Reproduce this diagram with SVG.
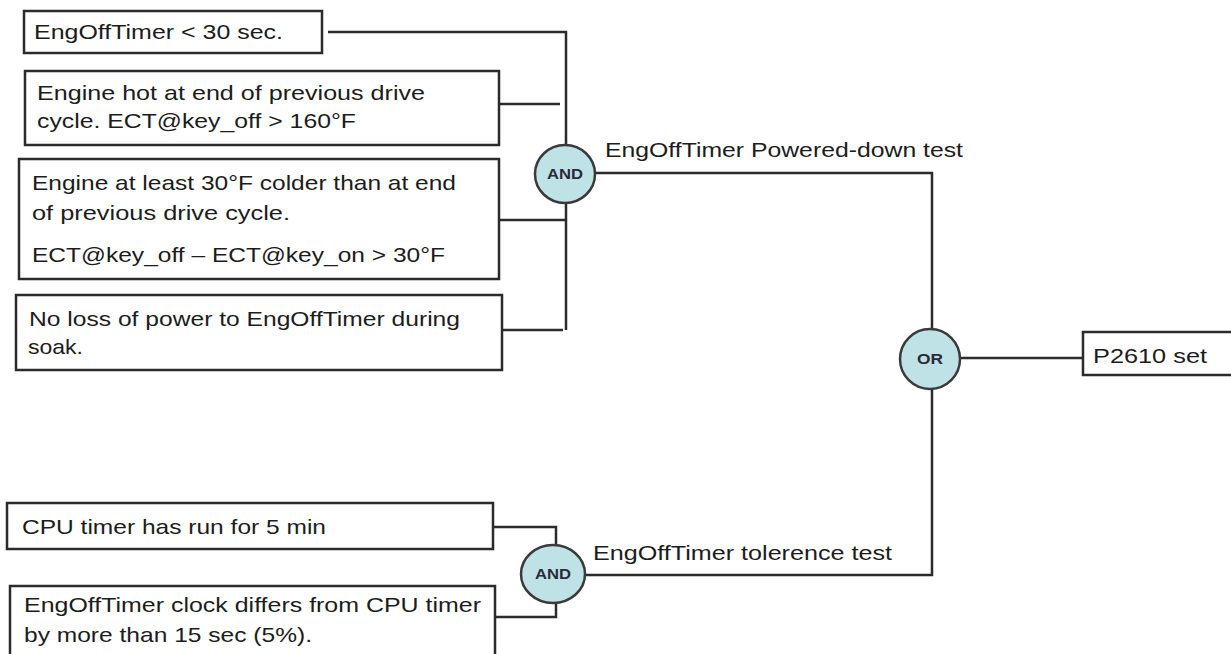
<svg xmlns="http://www.w3.org/2000/svg" width="1231" height="654" viewBox="0 0 1231 654">
<style>
.box{fill:#fff;stroke:#2b2b2b;stroke-width:2.5}
.gate{fill:#bfe2e6;stroke:#3a3a3a;stroke-width:2.5}
.wire{fill:none;stroke:#2b2b2b;stroke-width:2.5}
.t{font-family:"Liberation Sans",Arial,sans-serif;font-size:21px;fill:#1c1c1c}
.g{font-family:"Liberation Sans",Arial,sans-serif;font-size:14px;font-weight:bold;fill:#2a2a3a;text-anchor:middle}
</style>
<rect width="1231" height="654" fill="#fff"/>
<g id="connectors">
<path class="wire" d="M328,32 H566 V330"/>
<path class="wire" d="M499,104 H560"/>
<path class="wire" d="M499,220 H567"/>
<path class="wire" d="M502,330 H563"/>
<path class="wire" d="M595,173 H932 V329"/>
<path class="wire" d="M960,358 H1083"/>
<path class="wire" d="M932,389 V575 H585"/>
<path class="wire" d="M493,527 H556 V545"/>
<path class="wire" d="M495,617 H556 V603"/>
</g>
<g id="n1"><rect class="box" x="24" y="11" width="298" height="42"/><text class="t" x="34" y="39" textLength="249" lengthAdjust="spacingAndGlyphs">EngOffTimer &lt; 30 sec.</text></g>
<g id="n2"><rect class="box" x="25" y="71" width="474" height="74"/><text class="t" x="37" y="100" textLength="388" lengthAdjust="spacingAndGlyphs">Engine hot at end of previous drive</text><text class="t" x="37" y="128" textLength="319" lengthAdjust="spacingAndGlyphs">cycle. ECT@key_off &gt; 160°F</text></g>
<g id="n3"><rect class="box" x="19" y="159" width="480" height="120"/><text class="t" x="32" y="190" textLength="424" lengthAdjust="spacingAndGlyphs">Engine at least 30°F colder than at end</text><text class="t" x="32" y="220" textLength="258" lengthAdjust="spacingAndGlyphs">of previous drive cycle.</text><text class="t" x="32" y="262" textLength="413" lengthAdjust="spacingAndGlyphs">ECT@key_off – ECT@key_on &gt; 30°F</text></g>
<g id="n4"><rect class="box" x="16" y="295" width="486" height="75"/><text class="t" x="29" y="326" textLength="431" lengthAdjust="spacingAndGlyphs">No loss of power to EngOffTimer during</text><text class="t" x="28" y="354" textLength="55" lengthAdjust="spacingAndGlyphs">soak.</text></g>
<g id="and1"><ellipse class="gate" cx="565" cy="174" rx="30" ry="29"/><text class="g" x="565" y="179" textLength="36" lengthAdjust="spacingAndGlyphs">AND</text></g>
<g id="label1"><text class="t" x="605" y="157" textLength="358" lengthAdjust="spacingAndGlyphs">EngOffTimer Powered-down test</text></g>
<g id="or"><circle class="gate" cx="930" cy="359" r="30"/><text class="g" x="930" y="364" textLength="26" lengthAdjust="spacingAndGlyphs">OR</text></g>
<g id="out"><rect class="box" x="1083" y="332" width="160" height="43"/><text class="t" x="1093" y="363" textLength="114" lengthAdjust="spacingAndGlyphs">P2610 set</text></g>
<g id="n5"><rect class="box" x="7" y="503" width="486" height="46"/><text class="t" x="22" y="534" textLength="304" lengthAdjust="spacingAndGlyphs">CPU timer has run for 5 min</text></g>
<g id="n6"><rect class="box" x="10" y="586" width="485" height="80"/><text class="t" x="24" y="612" textLength="457" lengthAdjust="spacingAndGlyphs">EngOffTimer clock differs from CPU timer</text><text class="t" x="24" y="642" textLength="288" lengthAdjust="spacingAndGlyphs">by more than 15 sec (5%).</text></g>
<g id="and2"><ellipse class="gate" cx="553" cy="574" rx="32" ry="29"/><text class="g" x="553" y="579" textLength="36" lengthAdjust="spacingAndGlyphs">AND</text></g>
<g id="label2"><text class="t" x="593" y="560" textLength="299" lengthAdjust="spacingAndGlyphs">EngOffTimer tolerence test</text></g>
</svg>
